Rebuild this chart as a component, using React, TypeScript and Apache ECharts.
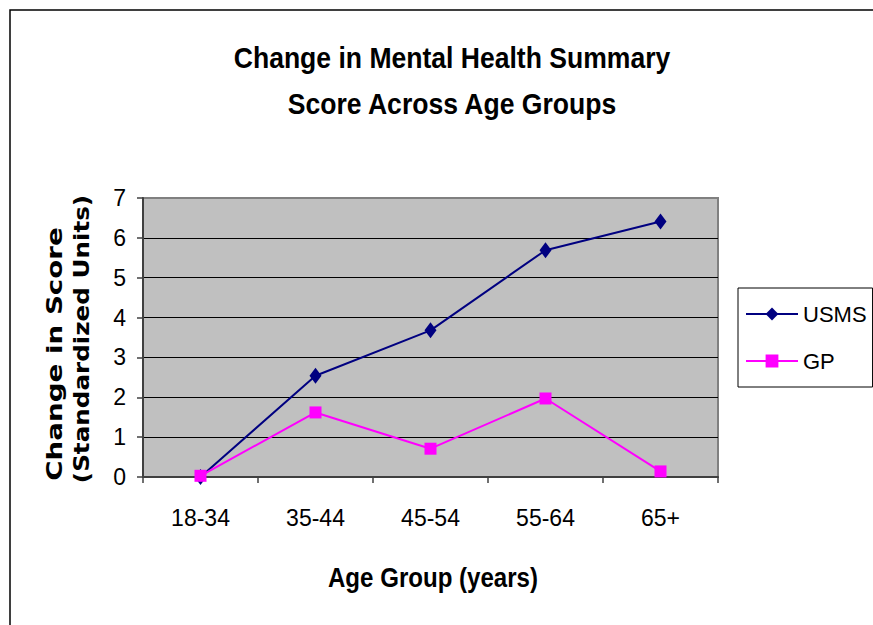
import React, { useEffect, useRef } from "react";
import * as echarts from "echarts";

const categories = ["18-34", "35-44", "45-54", "55-64", "65+"];
const usmsValues = [0, 2.54, 3.68, 5.69, 6.41];
const gpValues = [0.03, 1.62, 0.71, 1.97, 0.14];
const yTicks = { min: 0, max: 7, interval: 1 };
const titleLines = ["Change in Mental Health Summary", "Score Across Age Groups"];
const yNameLines = ["Change in Score", "(Standardized Units)"];
const xName = "Age Group (years)";

const SANS = "'Liberation Sans', Arial, sans-serif";

export default function App() {
  const ref = useRef<HTMLDivElement>(null);
  useEffect(() => {
    if (!ref.current) return;
    const chart = echarts.init(ref.current, null, { renderer: "svg" });
    chart.setOption({
      animation: false,
      backgroundColor: "#ffffff",
      graphic: [
        {
          type: "rect",
          shape: { x: 10, y: 10, width: 900, height: 700 },
          style: { fill: "none", stroke: "#000", lineWidth: 1.5 },
          z: 0,
        },
        {
          type: "text",
          x: 452,
          y: 57,
          scaleX: 0.885,
          style: {
            text: titleLines[0],
            textAlign: "center",
            textVerticalAlign: "middle",
            font: `bold 30px ${SANS}`,
            fill: "#000",
          },
        },
        {
          type: "text",
          x: 452,
          y: 103,
          scaleX: 0.885,
          style: {
            text: titleLines[1],
            textAlign: "center",
            textVerticalAlign: "middle",
            font: `bold 30px ${SANS}`,
            fill: "#000",
          },
        },
        {
          type: "text",
          x: 55,
          y: 354,
          rotation: Math.PI / 2,
          scaleX: 1.26,
          style: {
            text: yNameLines[0],
            textAlign: "center",
            textVerticalAlign: "middle",
            font: "bold 22px 'DejaVu Sans', sans-serif",
            fill: "#000",
          },
        },
        {
          type: "text",
          x: 81,
          y: 339,
          rotation: Math.PI / 2,
          scaleX: 1.12,
          style: {
            text: yNameLines[1],
            textAlign: "center",
            textVerticalAlign: "middle",
            font: "bold 22px 'DejaVu Sans', sans-serif",
            fill: "#000",
          },
        },
        {
          type: "text",
          x: 433,
          y: 577,
          scaleX: 0.86,
          style: {
            text: xName,
            textAlign: "center",
            textVerticalAlign: "middle",
            font: `bold 28px ${SANS}`,
            fill: "#000",
          },
        },
      ],
      legend: {
        orient: "vertical",
        left: 738,
        top: 288,
        padding: [15, 6, 15, 7],
        itemGap: 25,
        itemWidth: 52,
        itemHeight: 16,
        borderColor: "#000",
        borderWidth: 1,
        backgroundColor: "#fff",
        textStyle: { fontFamily: SANS, fontSize: 22, color: "#000" },
        data: ["USMS", "GP"],
      },
      grid: {
        left: 143,
        top: 198,
        right: 155,
        bottom: 148,
        show: true,
        backgroundColor: "#c0c0c0",
        borderColor: "#808080",
        borderWidth: 2,
      },
      xAxis: {
        type: "category",
        data: categories,
        boundaryGap: true,
        axisLine: { show: true, lineStyle: { color: "#404040", width: 2 } },
        axisTick: { show: true, length: 6, lineStyle: { color: "#404040", width: 1.5 } },
        axisLabel: { margin: 29, fontFamily: SANS, fontSize: 23, color: "#000" },
        splitLine: { show: false },
      },
      yAxis: {
        type: "value",
        min: yTicks.min,
        max: yTicks.max,
        interval: yTicks.interval,
        axisLine: { show: true, lineStyle: { color: "#404040", width: 2 } },
        axisTick: { show: true, length: 6, lineStyle: { color: "#404040", width: 1.5 } },
        axisLabel: { margin: 17, fontFamily: SANS, fontSize: 23, color: "#000" },
        splitLine: { show: true, showMaxLine: false, lineStyle: { color: "#000", width: 1 } },
      },
      series: [
        {
          name: "USMS",
          type: "line",
          data: usmsValues,
          symbol: "diamond",
          symbolSize: [12, 16],
          lineStyle: { color: "#000080", width: 2 },
          itemStyle: { color: "#000080" },
        },
        {
          name: "GP",
          type: "line",
          data: gpValues,
          symbol: "rect",
          symbolSize: 12,
          lineStyle: { color: "#ff00ff", width: 2 },
          itemStyle: { color: "#ff00ff" },
        },
      ],
    });
    return () => chart.dispose();
  }, []);
  return (
    <div
      ref={ref}
      style={{ position: "fixed", left: 0, top: 0, width: 873, height: 625 }}
    />
  );
}
